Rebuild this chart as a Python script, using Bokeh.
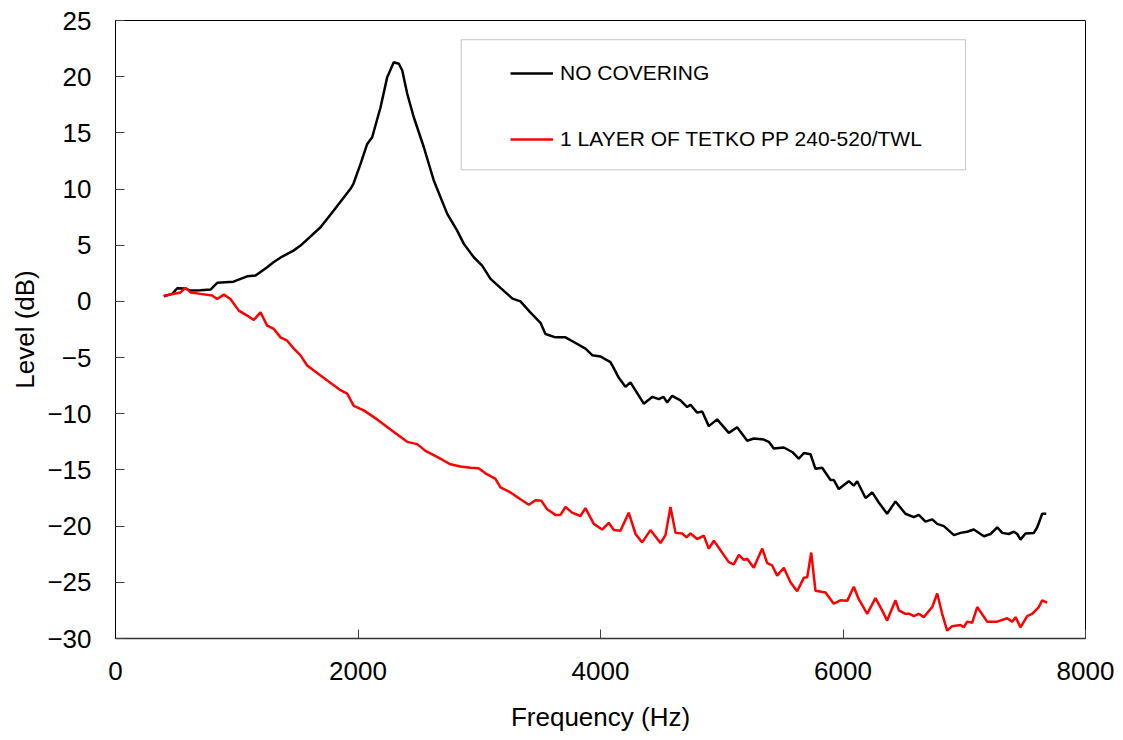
from bokeh.plotting import figure
from bokeh.models import Range1d, FixedTicker, Legend, LegendItem, BoxAnnotation
from bokeh.embed import file_html
from bokeh.resources import INLINE

# ---- data ----
freq_black = [398, 468, 509, 577, 619, 701, 784, 839, 973, 1086, 1155, 1251, 1303, 1375, 1468,
              1526, 1691, 1800, 1938, 1963, 2021, 2076, 2117, 2186, 2241, 2295, 2337, 2365, 2406,
              2460, 2543, 2625, 2736, 2818, 2873, 2955, 3024, 3093, 3134, 3175, 3274, 3340, 3423,
              3505, 3546, 3629, 3711, 3794, 3876, 3934, 4000, 4082, 4107, 4151, 4206, 4247, 4357,
              4426, 4481, 4520, 4550, 4591, 4660, 4715, 4742, 4797, 4839, 4893, 4962, 5058, 5127,
              5210, 5264, 5347, 5388, 5429, 5512, 5581, 5635, 5677, 5732, 5773, 5828, 5897, 5925,
              5965, 6048, 6089, 6117, 6186, 6241, 6295, 6364, 6433, 6515, 6584, 6625, 6680, 6736,
              6777, 6832, 6915, 6969, 7024, 7079, 7107, 7162, 7217, 7272, 7313, 7367, 7409, 7437,
              7464, 7505, 7574, 7602, 7643, 7676]
level_black = [0.45, 0.67, 1.17, 1.14, 0.96, 1.0, 1.05, 1.65, 1.76, 2.23, 2.3, 3.04, 3.48, 3.99, 4.52,
               4.97, 6.6, 8.09, 10.02, 10.49, 12.24, 14.02, 14.61, 17.28, 19.96, 21.29, 21.15, 20.55, 18.48,
               16.39, 13.72, 10.76, 7.79, 6.3, 5.12, 3.93, 3.19, 2.0, 1.6, 1.2, 0.25, 0.0, -1.0,
               -1.9, -2.9, -3.2, -3.2, -3.7, -4.2, -4.8, -4.9, -5.4, -5.9, -6.8, -7.6, -7.2, -9.1,
               -8.5, -8.7, -8.5, -9.0, -8.4, -8.8, -9.4, -9.2, -9.9, -9.8, -11.1, -10.5, -11.7, -11.2,
               -12.4, -12.2, -12.3, -12.5, -13.1, -13.0, -13.4, -14.0, -13.5, -13.6, -14.9, -14.8, -15.9, -15.9,
               -16.7, -16.0, -16.4, -16.0, -17.5, -17.0, -17.9, -18.9, -17.8, -18.9, -19.2, -19.0, -19.6, -19.4,
               -19.8, -20.0, -20.8, -20.6, -20.5, -20.3, -20.5, -20.9, -20.7, -20.1, -20.6, -20.7, -20.5, -20.7,
               -21.2, -20.65, -20.6, -20.1, -18.9, -18.9]

freq_red = [398, 536, 577, 619, 701, 797, 839, 894, 948, 1017, 1086, 1141, 1196, 1251, 1306, 1361,
            1416, 1471, 1526, 1581, 1691, 1856, 1911, 1965, 2048, 2158, 2268, 2406, 2488, 2557, 2680,
            2763, 2845, 2928, 2994, 3052, 3134, 3175, 3258, 3340, 3409, 3464, 3513, 3560, 3629, 3670,
            3711, 3766, 3835, 3876, 3945, 4014, 4068, 4110, 4165, 4233, 4289, 4344, 4412, 4495, 4536,
            4577, 4619, 4674, 4709, 4742, 4797, 4852, 4893, 4935, 5058, 5099, 5141, 5182, 5210, 5264,
            5334, 5375, 5416, 5457, 5512, 5567, 5622, 5677, 5705, 5738, 5773, 5856, 5924, 5979, 6035,
            6089, 6130, 6200, 6268, 6323, 6364, 6433, 6461, 6515, 6549, 6584, 6625, 6666, 6736, 6777,
            6818, 6859, 6900, 6969, 6996, 7024, 7065, 7107, 7189, 7272, 7354, 7395, 7423, 7464, 7519,
            7560, 7615, 7643, 7684]
level_red = [0.5, 0.8, 1.2, 0.8, 0.67, 0.52, 0.22, 0.6, 0.22, -0.82, -1.26, -1.65, -0.97, -2.15, -2.45, -3.2,
             -3.5, -4.2, -4.8, -5.7, -6.6, -7.9, -8.2, -9.3, -9.7, -10.5, -11.4, -12.5, -12.7, -13.3, -14.0,
             -14.5, -14.7, -14.8, -14.85, -15.3, -15.8, -16.55, -17.0, -17.6, -18.1, -17.7, -17.75, -18.5, -19.0, -19.0,
             -18.3, -18.8, -19.1, -18.4, -19.8, -20.3, -19.7, -20.35, -20.4, -18.8, -20.7, -21.45, -20.35, -21.5, -20.8,
             -18.3, -20.6, -20.65, -21.0, -20.65, -21.15, -20.85, -22.0, -21.3, -23.2, -23.4, -22.55, -23.0, -22.9, -23.7,
             -22.0, -23.3, -23.5, -24.4, -23.7, -25.0, -25.8, -24.6, -24.55, -22.35, -25.75, -25.9, -26.9, -26.6, -26.65,
             -25.4, -26.5, -27.8, -26.4, -27.5, -28.4, -26.6, -27.5, -27.8, -27.8, -28.0, -27.8, -28.1, -27.2, -26.0,
             -27.8, -29.3, -28.9, -28.8, -29.0, -28.5, -28.6, -27.2, -28.5, -28.5, -28.2, -28.5, -28.1, -29.0, -28.0,
             -27.8, -27.2, -26.6, -26.8]

series_names = ["NO COVERING", "1 LAYER OF TETKO PP 240-520/TWL"]
x_ticks = [0, 2000, 4000, 6000, 8000]
y_ticks = [-30, -25, -20, -15, -10, -5, 0, 5, 10, 15, 20, 25]

FONT = "Liberation Sans"

p = figure(width=1123, height=740, output_backend="svg", toolbar_location=None,
           x_range=Range1d(0, 8000), y_range=Range1d(-30, 25),
           min_border_left=115, min_border_right=38, min_border_top=20, min_border_bottom=102)

p.xgrid.visible = False
p.ygrid.visible = False
p.background_fill_color = "white"
p.border_fill_color = "white"
p.outline_line_color = "black"
p.outline_line_width = 1

p.xaxis.ticker = FixedTicker(ticks=x_ticks)
p.yaxis.ticker = FixedTicker(ticks=y_ticks)
for ax in (p.xaxis[0], p.yaxis[0]):
    ax.major_tick_in = 9
    ax.major_tick_out = 0
    ax.minor_tick_in = 0
    ax.minor_tick_out = 0
    ax.major_tick_line_color = "#404040"
    ax.major_tick_line_width = 1
    ax.major_label_text_font = FONT
    ax.major_label_text_font_size = "26px"
    ax.major_label_text_color = "black"
    ax.axis_label_text_font = FONT
    ax.axis_label_text_font_size = "26px"
    ax.axis_label_text_font_style = "normal"
    ax.axis_label_text_color = "black"

p.xaxis.axis_label = "Frequency (Hz)"
p.yaxis.axis_label = "Level (dB)"
p.xaxis.axis_line_color = "#333333"
p.xaxis.axis_line_width = 1.5
p.yaxis.axis_line_color = "black"
p.yaxis.axis_line_width = 1
p.xaxis.major_label_standoff = 23
p.xaxis.axis_label_standoff = 19
p.yaxis.major_label_standoff = 24
p.yaxis.axis_label_standoff = 4

# legend frame
box = BoxAnnotation(left=2851, right=7010, top=23.29, bottom=11.71,
                    fill_color="white", fill_alpha=1.0,
                    line_color="#404040", line_width=1)
p.add_layout(box)

r_black = p.line(freq_black, level_black, line_color="black", line_width=2.5)
r_red = p.line(freq_red, level_red, line_color="#ff0000", line_width=2.5)

legend = Legend(items=[LegendItem(label=series_names[0], renderers=[r_black]),
                       LegendItem(label=series_names[1], renderers=[r_red])],
                location=(395, 487), padding=0, margin=0, spacing=42,
                glyph_width=43, glyph_height=24, label_height=24, label_standoff=7,
                border_line_color=None, background_fill_alpha=0,
                label_text_font=FONT, label_text_font_size="21px", label_text_color="black")
p.add_layout(legend)

open("out.html", "w").write(file_html(p, INLINE))
